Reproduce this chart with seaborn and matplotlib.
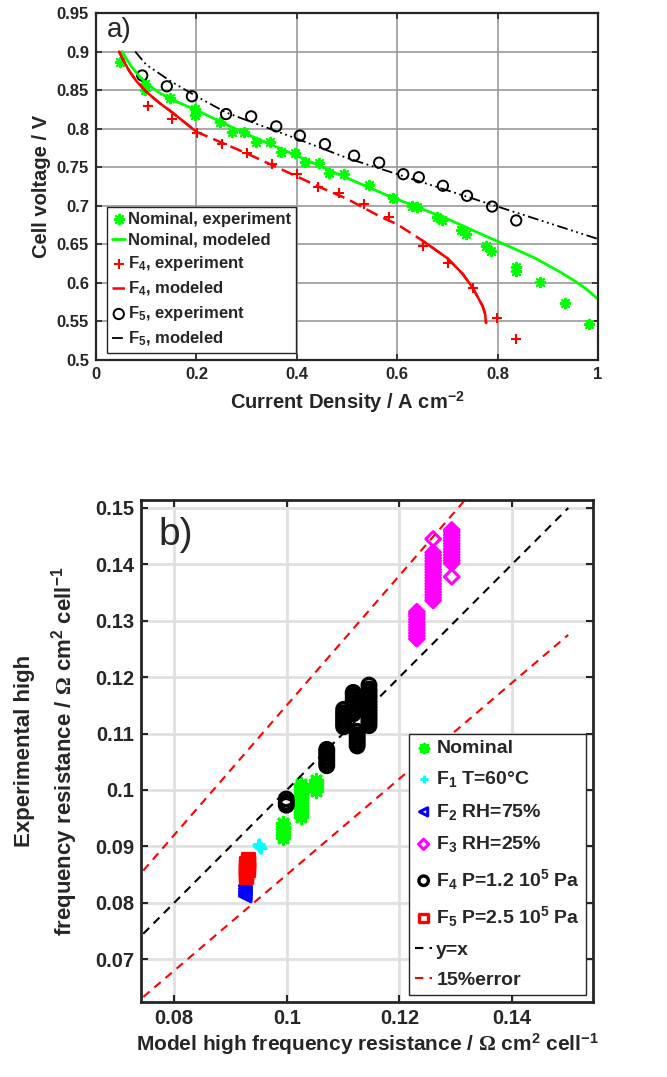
import matplotlib
matplotlib.use('Agg')
import matplotlib.pyplot as plt
import seaborn as sns
import pandas as pd

# ---- panel a) polarization curves ----
nom_exp_j = [0.048, 0.098, 0.098, 0.147, 0.197, 0.197, 0.247, 0.27, 0.295, 0.319, 0.347, 0.368,
             0.396, 0.416, 0.444, 0.464, 0.494, 0.544, 0.592, 0.63, 0.64, 0.679, 0.689, 0.727,
             0.737, 0.777, 0.787, 0.837, 0.837, 0.885, 0.934, 0.982]
nom_exp_v = [0.887, 0.858, 0.85, 0.84, 0.826, 0.818, 0.809, 0.796, 0.796, 0.783, 0.783, 0.770,
             0.769, 0.757, 0.756, 0.743, 0.741, 0.727, 0.71, 0.70, 0.699, 0.686, 0.682, 0.669,
             0.664, 0.648, 0.642, 0.621, 0.616, 0.601, 0.574, 0.547]
nom_mod_j = [0.052, 0.06, 0.07, 0.085, 0.1, 0.125, 0.15, 0.2, 0.3, 0.4, 0.5, 0.586, 0.7, 0.765,
             0.831, 0.875, 0.9, 0.925, 0.95, 0.975, 1.0]
nom_mod_v = [0.9, 0.891, 0.881, 0.869, 0.859, 0.847, 0.838, 0.824, 0.793, 0.765, 0.736, 0.712,
             0.683, 0.664, 0.645, 0.632, 0.623, 0.614, 0.604, 0.593, 0.579]

f4_exp_j = [0.104, 0.151, 0.201, 0.251, 0.301, 0.35, 0.4, 0.442, 0.484, 0.534, 0.584, 0.651,
            0.701, 0.751, 0.799, 0.837]
f4_exp_v = [0.829, 0.813, 0.795, 0.78, 0.768, 0.754, 0.741, 0.724, 0.717, 0.703, 0.685, 0.648,
            0.626, 0.593, 0.554, 0.527]
f4_mod_j = [0.046, 0.055, 0.065, 0.08, 0.1, 0.125, 0.15, 0.2, 0.3, 0.4, 0.45, 0.5, 0.566, 0.6,
            0.65, 0.7, 0.73, 0.75, 0.77, 0.775, 0.777]
f4_mod_v = [0.9, 0.888, 0.876, 0.862, 0.848, 0.834, 0.822, 0.796, 0.768, 0.738, 0.723, 0.709,
            0.686, 0.676, 0.655, 0.632, 0.612, 0.594, 0.57, 0.56, 0.548]

f5_exp_j = [0.092, 0.141, 0.191, 0.259, 0.309, 0.359, 0.406, 0.456, 0.514, 0.564, 0.612, 0.643,
            0.691, 0.739, 0.789, 0.837]
f5_exp_v = [0.869, 0.855, 0.842, 0.819, 0.816, 0.803, 0.791, 0.78, 0.765, 0.756, 0.741, 0.737,
            0.726, 0.713, 0.699, 0.681]
f5_mod_j = [0.078, 0.1, 0.15, 0.2, 0.259, 0.3, 0.4, 0.5, 0.6, 0.7, 0.8, 0.9, 1.0]
f5_mod_v = [0.9, 0.883, 0.861, 0.842, 0.821, 0.811, 0.787, 0.762, 0.741, 0.72, 0.699, 0.678, 0.657]

cd_ticks = [0, 0.2, 0.4, 0.6, 0.8, 1]
cd_labels = ['0', '0.2', '0.4', '0.6', '0.8', '1']
volt_ticks = [0.5, 0.55, 0.6, 0.65, 0.7, 0.75, 0.8, 0.85, 0.9, 0.95]
volt_labels = ['0.5', '0.55', '0.6', '0.65', '0.7', '0.75', '0.8', '0.85', '0.9', '0.95']

# ---- panel b) HFR, model vs experiment: (model x, [experimental y values]) ----
nominal_clusters = [
    (0.0993, [0.0915, 0.0920, 0.0925, 0.0930, 0.0935, 0.0941]),
    (0.1025, [0.0952, 0.0957, 0.0962, 0.0967, 0.0972, 0.0977, 0.0982, 0.0987, 0.0992,
              0.0997, 0.1002, 0.1007, 0.1011]),
    (0.1052, [0.0998, 0.1003, 0.1008, 0.1013, 0.1018]),
]
f1_clusters = [
    (0.0949, [0.0902]), (0.0951, [0.0900, 0.0904]), (0.0953, [0.0898]), (0.0955, [0.0897]),
]
f2_clusters = [
    (0.0926, [0.0812, 0.0816, 0.0820, 0.0825, 0.0830]),
]
f3_clusters = [
    (0.1231, [0.1268, 0.1273, 0.1278, 0.1283, 0.1288, 0.1293, 0.1298, 0.1303, 0.1308,
              0.1312, 0.1316]),
    (0.1260, [0.1336, 0.1341, 0.1346, 0.1351, 0.1356, 0.1361, 0.1366, 0.1371, 0.1376,
              0.1381, 0.1386, 0.1391, 0.1396, 0.1401, 0.1406, 0.1411, 0.1416, 0.1421, 0.1445]),
    (0.1293, [0.1378, 0.1402, 0.1407, 0.1412, 0.1417, 0.1422, 0.1427, 0.1432, 0.1437,
              0.1442, 0.1447, 0.1452, 0.1457, 0.1461]),
]
f4_clusters = [
    (0.0999, [0.0973, 0.0978, 0.0984]),
    (0.1071, [0.1043, 0.1048, 0.1053, 0.1058, 0.1063, 0.1068, 0.1072]),
    (0.1101, [0.1112, 0.1117, 0.1122, 0.1127, 0.1132, 0.1137, 0.1143]),
    (0.1118, [0.1135, 0.1140, 0.1145, 0.1150, 0.1155, 0.1160, 0.1165, 0.1170, 0.1173]),
    (0.1125, [0.1078, 0.1083, 0.1088, 0.1093, 0.1098, 0.1104]),
    (0.1146, [0.1114, 0.1119, 0.1124, 0.1129, 0.1134, 0.1139, 0.1144, 0.1149, 0.1154,
              0.1159, 0.1164, 0.1169, 0.1174, 0.1179, 0.1186]),
]
f5_clusters = [
    (0.0927, [0.0845, 0.0850, 0.0855, 0.0860, 0.0865, 0.0870]),
    (0.0931, [0.0858, 0.0863, 0.0868, 0.0873, 0.0877]),
]
ref_x = [0.0745, 0.15]
ref_y = [0.0745, 0.15]
err_hi_y = [0.0857, 0.1725]
err_lo_y = [0.0633, 0.1275]

hfr_xticks = [0.08, 0.1, 0.12, 0.14]
hfr_xlabels = ['0.08', '0.1', '0.12', '0.14']
hfr_yticks = [0.07, 0.08, 0.09, 0.1, 0.11, 0.12, 0.13, 0.14, 0.15]
hfr_ylabels = ['0.07', '0.08', '0.09', '0.1', '0.11', '0.12', '0.13', '0.14', '0.15']


def to_frame(clusters):
    rows = [(x, y) for x, ys in clusters for y in ys]
    return pd.DataFrame(rows, columns=['model', 'exp'])


sns.set_style('ticks')
plt.rcParams['font.family'] = ['Liberation Sans', 'DejaVu Sans']
plt.rcParams['font.weight'] = 'bold'
plt.rcParams['mathtext.fontset'] = 'custom'
plt.rcParams['mathtext.rm'] = 'Liberation Sans:bold'
plt.rcParams['mathtext.it'] = 'Liberation Sans:bold'
plt.rcParams['mathtext.bf'] = 'Liberation Sans:bold'
plt.rcParams['mathtext.sf'] = 'Liberation Serif'

fig = plt.figure(figsize=(6.67, 10.77), dpi=100)

# ---------------- a) ----------------
ax1 = fig.add_axes([0.144, 0.6657, 0.7526, 0.3222])
green, red = '#00ff00', '#ff0000'

sns.scatterplot(x=nom_exp_j, y=nom_exp_v, ax=ax1, marker=(8, 2, 0), color=green,
                s=45, linewidth=1.6, label='Nominal, experiment')
sns.lineplot(x=nom_mod_j, y=nom_mod_v, ax=ax1, color=green, lw=2, sort=False,
             estimator=None, label='Nominal, modeled')
sns.scatterplot(x=f4_exp_j, y=f4_exp_v, ax=ax1, marker='+', color=red, s=50,
                linewidth=1.5, label='F$_4$, experiment')
sns.lineplot(x=f4_mod_j, y=f4_mod_v, ax=ax1, color=red, lw=1.8, sort=False,
             estimator=None, linestyle=(0, (5, 2.5)), label='F$_4$, modeled')
# solid-looking parts of the F4 model curve
ax1.plot(f4_mod_j[:8], f4_mod_v[:8], color=red, lw=1.8)
ax1.plot(f4_mod_j[14:], f4_mod_v[14:], color=red, lw=1.8)
sns.scatterplot(x=f5_exp_j, y=f5_exp_v, ax=ax1, marker='o', facecolor='none',
                edgecolor='black', s=55, linewidth=1.4, label='F$_5$, experiment')
sns.lineplot(x=f5_mod_j, y=f5_mod_v, ax=ax1, color='black', lw=1.3, sort=False,
             estimator=None, linestyle=(0, (6, 2, 1, 2, 1, 2, 1, 2)), label='F$_5$, modeled')

ax1.set_xlim(0, 1)
ax1.set_ylim(0.5, 0.95)
ax1.set_xticks(cd_ticks)
ax1.set_xticklabels(cd_labels)
ax1.set_yticks(volt_ticks)
ax1.set_yticklabels(volt_labels)
ax1.tick_params(direction='in', top=True, right=True, length=4, width=1.2,
                labelsize=12, pad=5)
ax1.grid(True, color='#9a9a9a', lw=1.2)
ax1.set_axisbelow(True)
for sp in ax1.spines.values():
    sp.set_linewidth(1.6)
    sp.set_color('#262626')
ax1.set_xlabel('Current Density / A cm$^{-2}$', fontsize=14.5, fontweight='bold')
ax1.set_ylabel('Cell voltage / V', fontsize=14.5, fontweight='bold')
ax1.xaxis.set_label_coords(0.5, -0.085)
ax1.yaxis.set_label_coords(-0.09, 0.5)
ax1.text(0.022, 0.988, 'a)', transform=ax1.transAxes, fontsize=20, fontweight='normal',
         va='top', ha='left')
leg1 = ax1.legend(loc='lower left', bbox_to_anchor=(0.022, 0.02), borderaxespad=0,
                  prop={'weight': 'bold', 'size': 12}, handlelength=0.8, handletextpad=0.15,
                  labelspacing=0.38, borderpad=0.3, fancybox=False, framealpha=1)
leg1.get_frame().set_edgecolor('#262626')
leg1.get_frame().set_linewidth(1.0)

# ---------------- b) ----------------
ax2 = fig.add_axes([0.2114, 0.0696, 0.6777, 0.4661])

sns.lineplot(x=ref_x, y=ref_y, ax=ax2, color='black', lw=1.5, linestyle=(0, (4, 3)),
             sort=False, estimator=None, label='y=x')
sns.lineplot(x=ref_x, y=err_hi_y, ax=ax2, color=red, lw=1.5, linestyle=(0, (4, 3)),
             sort=False, estimator=None, label='15%error')
sns.lineplot(x=ref_x, y=err_lo_y, ax=ax2, color=red, lw=1.5, linestyle=(0, (4, 3)),
             sort=False, estimator=None)

df = to_frame(nominal_clusters)
sns.scatterplot(data=df, x='model', y='exp', ax=ax2, marker=(8, 2, 0), color=green,
                s=80, linewidth=2.2, label='Nominal')
df = to_frame(f1_clusters)
sns.scatterplot(data=df, x='model', y='exp', ax=ax2, marker='+', color='#00ffff',
                s=80, linewidth=2.2, label='F$_1$ T=60°C')
df = to_frame(f2_clusters)
sns.scatterplot(data=df, x='model', y='exp', ax=ax2, marker='<', facecolor='none',
                edgecolor='#0000ff', s=70, linewidth=2.2, label='F$_2$ RH=75%')
df = to_frame(f3_clusters)
sns.scatterplot(data=df, x='model', y='exp', ax=ax2, marker='D', facecolor='none',
                edgecolor='#ff00ff', s=55, linewidth=2.2, label='F$_3$ RH=25%')
df = to_frame(f4_clusters)
sns.scatterplot(data=df, x='model', y='exp', ax=ax2, marker='o', facecolor='none',
                edgecolor='black', s=95, linewidth=2.4, label='F$_4$ P=1.2 10$^5$ Pa')
df = to_frame(f5_clusters)
sns.scatterplot(data=df, x='model', y='exp', ax=ax2, marker='s', facecolor='none',
                edgecolor=red, s=75, linewidth=2.4, label='F$_5$ P=2.5 10$^5$ Pa')

ax2.set_xlim(0.0741, 0.1544)
ax2.set_ylim(0.0624, 0.1514)
ax2.set_xticks(hfr_xticks)
ax2.set_xticklabels(hfr_xlabels)
ax2.set_yticks(hfr_yticks)
ax2.set_yticklabels(hfr_ylabels)
ax2.tick_params(direction='in', top=True, right=True, length=5, width=1.5,
                labelsize=14.5, pad=5)
ax2.grid(True, color='#e0e0e0', lw=2)
ax2.set_axisbelow(True)
for sp in ax2.spines.values():
    sp.set_linewidth(2)
    sp.set_color('#262626')
ax2.set_xlabel(r'Model high frequency resistance / $\mathsf{\Omega}$ cm$^{2}$ cell$^{-1}$',
               fontsize=15, fontweight='bold')
ax2.set_ylabel('Experimental high\n' + r'frequency resistance / $\mathsf{\Omega}$ cm$^{2}$ cell$^{-1}$',
               fontsize=16, fontweight='bold', linespacing=1.65)
ax2.xaxis.set_label_coords(0.5, -0.058)
ax2.yaxis.set_label_coords(-0.135, 0.5)
ax2.text(0.038, 0.966, 'b)', transform=ax2.transAxes, fontsize=28, fontweight='normal',
         va='top', ha='left')

h, l = ax2.get_legend_handles_labels()
order = ['Nominal', 'F$_1$ T=60°C', 'F$_2$ RH=75%', 'F$_3$ RH=25%',
         'F$_4$ P=1.2 10$^5$ Pa', 'F$_5$ P=2.5 10$^5$ Pa', 'y=x', '15%error']
hmap = dict(zip(l, h))
leg2 = ax2.legend([hmap[k] for k in order], order, loc='lower left',
                  bbox_to_anchor=(0.593, 0.014), borderaxespad=0,
                  prop={'weight': 'bold', 'size': 14}, handlelength=0.9, handletextpad=0.2,
                  labelspacing=0.64, borderpad=0.3, fancybox=False, framealpha=1,
                  markerscale=0.7)
leg2.get_frame().set_edgecolor('#262626')
leg2.get_frame().set_linewidth(1.0)

fig.savefig('out.png', dpi=100)
